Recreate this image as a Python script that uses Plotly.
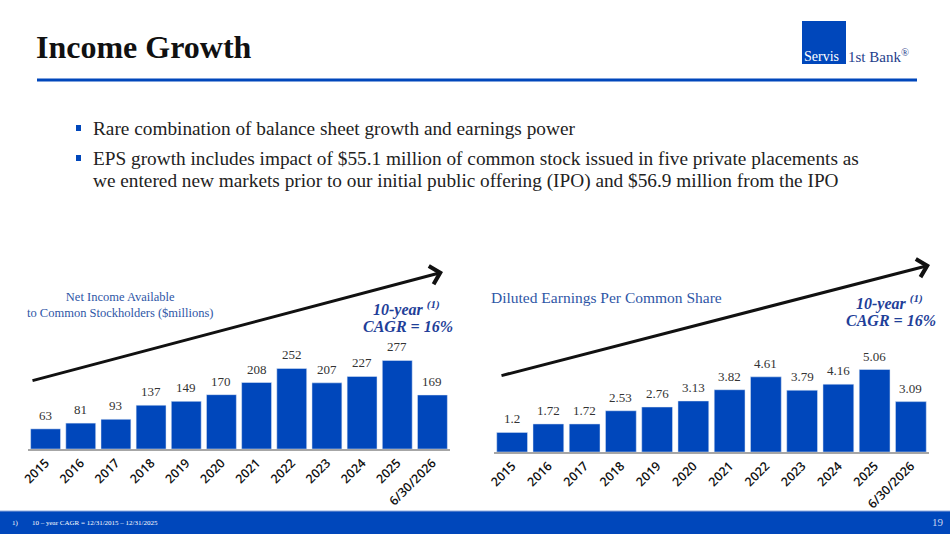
import plotly.graph_objects as go

W, H = 950, 534
BLUE = "#0047BB"
TITLE_BLUE = "#2E56A6"
CAGR_BLUE = "#1F3F99"
SERIF = "Liberation Serif"
SANS = "Open Sans"

periods = ["2015", "2016", "2017", "2018", "2019", "2020",
           "2021", "2022", "2023", "2024", "2025", "6/30/2026"]
net_income = [63, 81, 93, 137, 149, 170, 208, 252, 207, 227, 277, 169]
eps = [1.2, 1.72, 1.72, 2.53, 2.76, 3.13, 3.82, 4.61, 3.79, 4.16, 5.06, 3.09]

bullets = [
    "Rare combination of balance sheet growth and earnings power",
    "EPS growth includes impact of $55.1 million of common stock issued in five private placements as",
]
bullet_cont = "we entered new markets prior to our initial public offering (IPO) and $56.9 million from the IPO"
footnote = "10 – year CAGR = 12/31/2015 – 12/31/2025"


def px(x):
    return x / W


def py(y):
    return 1 - y / H


def note(x, y, text, size, color, family=SERIF, xanchor="left", **kw):
    return dict(x=px(x), y=py(y), xref="paper", yref="paper", text=text,
                showarrow=False, xanchor=xanchor, yanchor="middle",
                font=dict(family=family, size=size, color=color), **kw)


fig = go.Figure()
fig.add_trace(go.Bar(x=periods, y=net_income, marker_color=BLUE,
                     xaxis="x", yaxis="y", hoverinfo="x+y"))
fig.add_trace(go.Bar(x=periods, y=eps, marker_color=BLUE,
                     xaxis="x2", yaxis="y2", hoverinfo="x+y"))

ann = []
# value labels (x given as category index so the axis keeps its range)
for i, v in enumerate(net_income):
    ann.append(dict(x=i, y=v, xref="x", yref="y", text=str(v), showarrow=False,
                    yanchor="bottom", yshift=4, font=dict(family=SERIF, size=13, color="#333")))
for i, v in enumerate(eps):
    ann.append(dict(x=i, y=v, xref="x2", yref="y2", text=f"{v:g}", showarrow=False,
                    yanchor="bottom", yshift=4, font=dict(family=SERIF, size=13, color="#333")))

# header + logo text
ann.append(note(34, 47, "<b>Income Growth</b>", 32, "#111"))
ann.append(note(802, 56, "Servis", 14, "white"))
ann.append(note(846, 56, "1st Bank<sup>®</sup>", 15, "#1F3E8C"))

# bullets
for i, t in enumerate(bullets):
    ann.append(note(91, 128 + 30 * i, t, 19.3, "#222"))
ann.append(note(91, 181, bullet_cont, 19.3, "#222"))

# chart titles
ann.append(note(120, 305, "Net Income Available<br>to Common Stockholders ($millions)",
                12.5, TITLE_BLUE, xanchor="center", align="center"))
ann.append(note(489, 297, "Diluted Earnings Per Common Share", 15.5, TITLE_BLUE))

# CAGR callouts
for cx, cy in [(406, 308), (889, 302)]:
    ann.append(note(cx, cy, "<b><i>10-year <sup>(1)</sup></i></b>", 16, CAGR_BLUE, xanchor="center"))
    ann.append(note(cx + 2, cy + 18, "<b><i>CAGR = 16%</i></b>", 16, CAGR_BLUE, xanchor="center"))

# trend arrows
for (x0, y0), (x1, y1) in [((31, 381), (443, 272)), ((500, 376), (930, 265))]:
    ann.append(dict(x=px(x1), y=py(y1), xref="paper", yref="paper", text="",
                    showarrow=True, ax=x0 - x1, ay=y0 - y1, axref="pixel", ayref="pixel",
                    arrowhead=4, arrowsize=1.2, arrowwidth=3, arrowcolor="#111"))

# footer
ann.append(note(10, 523, "1)", 7, "white"))
ann.append(note(30, 523, footnote, 7, "white"))
ann.append(note(946, 522, "19", 11, "#C9D3EE", xanchor="right"))

shapes = [
    dict(type="line", xref="paper", yref="paper", x0=px(37), x1=px(917), y0=py(80), y1=py(80),
         line=dict(color=BLUE, width=3)),
    dict(type="rect", xref="paper", yref="paper", x0=px(802), x1=px(846), y0=py(64), y1=py(21),
         fillcolor=BLUE, line_width=0, layer="below"),
    dict(type="rect", xref="paper", yref="paper", x0=0, x1=1, y0=0, y1=py(511),
         fillcolor=BLUE, line_width=0),
    dict(type="line", xref="paper", yref="paper", x0=0, x1=1, y0=py(511), y1=py(511),
         line=dict(color="#8FA8DC", width=1)),
]
for yb in [128, 158]:
    shapes.append(dict(type="rect", xref="paper", yref="paper", x0=px(76), x1=px(81),
                       y0=py(yb + 3), y1=py(yb - 3), fillcolor=BLUE, line_width=0))

axis_common = dict(type="category", range=[-0.5, 11.5], tickangle=-45, ticks="",
                   showgrid=False, showline=True, automargin=False,
                   linecolor="#A6A6A6", linewidth=1.5, zeroline=False,
                   tickfont=dict(family=SANS, size=12.5, color="#111", weight=600))

fig.update_layout(
    width=W, height=H,
    margin=dict(l=0, r=0, t=0, b=0, autoexpand=False),
    paper_bgcolor="white", plot_bgcolor="white",
    showlegend=False, bargap=0.15,
    xaxis=dict(domain=[px(28), px(450)], anchor="y", **axis_common),
    yaxis=dict(domain=[py(449), py(340)], range=[0, 341], visible=False,
               anchor="x", automargin=False),
    xaxis2=dict(domain=[px(494), px(929)], anchor="y2", **axis_common),
    yaxis2=dict(domain=[py(452), py(340)], range=[0, 6.87], visible=False,
                anchor="x2", automargin=False),
    annotations=ann,
    shapes=shapes,
)

# page body has a default 8px margin; drop it so the slide fills the window
fig.write_html("out.html", config={"displayModeBar": False},
               post_script="document.body.style.margin='0';")
